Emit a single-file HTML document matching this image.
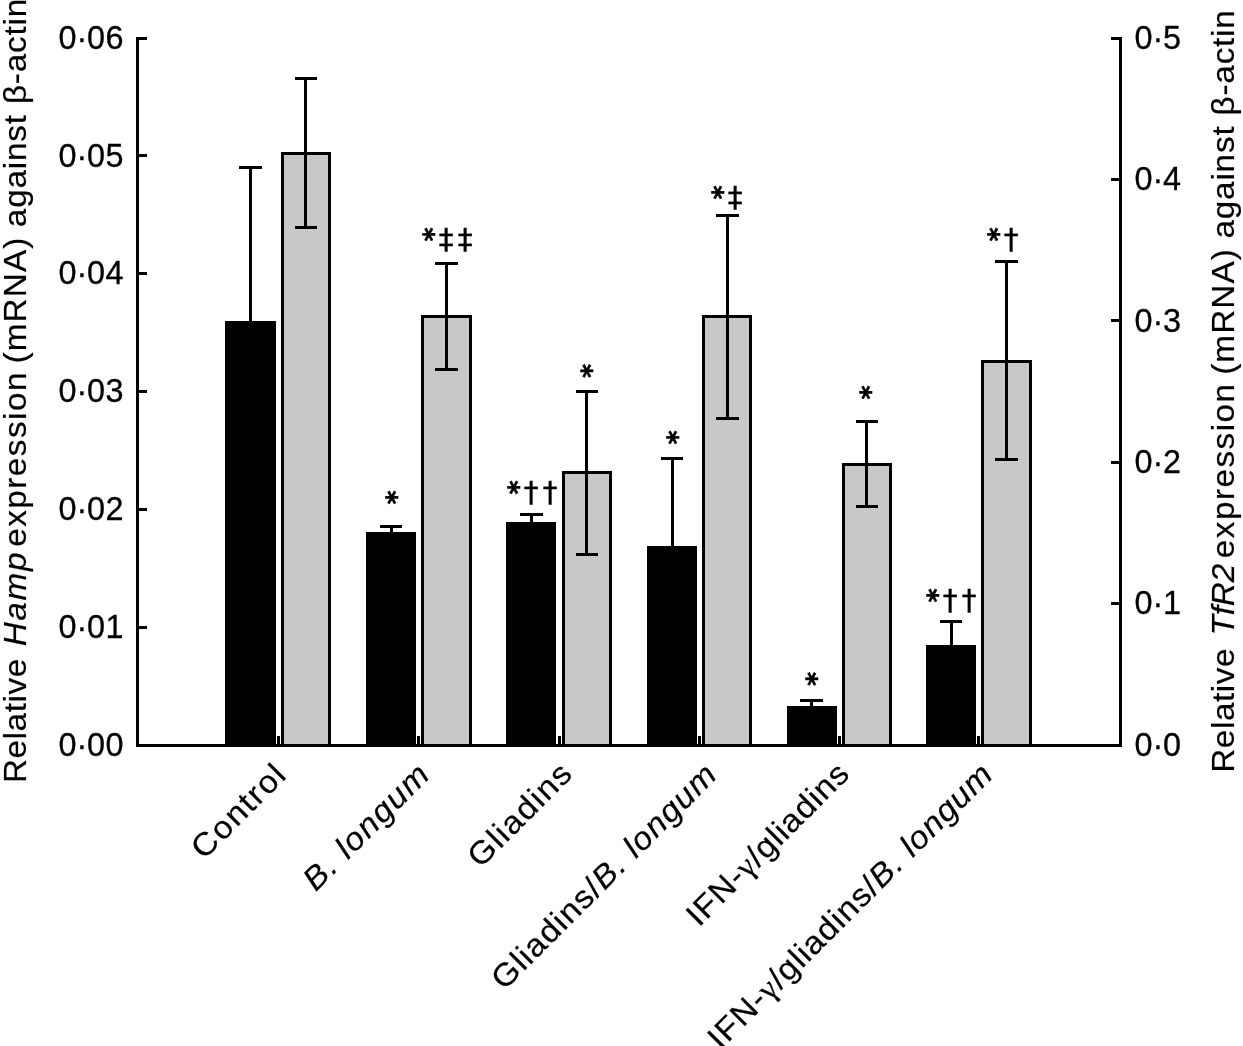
<!DOCTYPE html>
<html lang="en"><head><meta charset="utf-8"><title>Relative Hamp and TfR2 expression</title>
<style>html,body{margin:0;padding:0;background:#fff}body{width:1243px;height:1046px;overflow:hidden}svg{display:block}text{font-family:"Liberation Sans", sans-serif;fill:#000;stroke:#000;stroke-width:0.20px;font-kerning:none}.tick{stroke-width:0.3px}.ast{font-family:"DejaVu Sans","Liberation Sans",sans-serif;font-weight:bold;stroke-width:0.6px}.dag{font-family:"DejaVu Sans","Liberation Sans",sans-serif;stroke-width:0.4px}.ser{font-family:"Liberation Serif",serif}.it{font-style:italic}</style>
</head><body>
<svg width="1243" height="1046" viewBox="0 0 1243 1046">
<rect x="0" y="0" width="1243" height="1046" fill="#fff"/>
<g id="bars">
<rect x="225" y="321" width="51" height="424" fill="#000"/>
<rect x="366" y="532" width="50" height="213" fill="#000"/>
<rect x="506" y="522" width="50" height="223" fill="#000"/>
<rect x="647" y="546" width="50" height="199" fill="#000"/>
<rect x="787" y="706" width="50" height="39" fill="#000"/>
<rect x="926" y="645" width="50" height="100" fill="#000"/>
<rect x="281" y="152" width="50" height="593" fill="#000"/>
<rect x="284" y="155" width="44" height="589" fill="#c8c8c8"/>
<rect x="421" y="315" width="51" height="430" fill="#000"/>
<rect x="424" y="318" width="45" height="426" fill="#c8c8c8"/>
<rect x="562" y="471" width="50" height="274" fill="#000"/>
<rect x="565" y="474" width="44" height="270" fill="#c8c8c8"/>
<rect x="702" y="315" width="50" height="430" fill="#000"/>
<rect x="705" y="318" width="44" height="426" fill="#c8c8c8"/>
<rect x="842" y="463" width="50" height="282" fill="#000"/>
<rect x="845" y="466" width="44" height="278" fill="#c8c8c8"/>
<rect x="981" y="360" width="51" height="385" fill="#000"/>
<rect x="984" y="363" width="45" height="381" fill="#c8c8c8"/>
</g>
<g id="errorbars">
<rect x="239" y="166" width="23" height="3" fill="#000"/>
<rect x="249" y="166" width="3" height="156" fill="#000"/>
<rect x="380" y="525" width="22" height="3" fill="#000"/>
<rect x="390" y="525" width="3" height="8" fill="#000"/>
<rect x="520" y="513" width="23" height="3" fill="#000"/>
<rect x="530" y="513" width="3" height="10" fill="#000"/>
<rect x="661" y="457" width="22" height="3" fill="#000"/>
<rect x="671" y="457" width="3" height="90" fill="#000"/>
<rect x="800" y="699" width="23" height="3" fill="#000"/>
<rect x="810" y="699" width="3" height="8" fill="#000"/>
<rect x="940" y="620" width="22" height="3" fill="#000"/>
<rect x="950" y="620" width="3" height="26" fill="#000"/>
<rect x="295" y="77" width="22" height="3" fill="#000"/>
<rect x="295" y="226" width="22" height="3" fill="#000"/>
<rect x="304" y="77" width="3" height="152" fill="#000"/>
<rect x="435" y="262" width="23" height="3" fill="#000"/>
<rect x="435" y="368" width="23" height="3" fill="#000"/>
<rect x="445" y="262" width="3" height="109" fill="#000"/>
<rect x="576" y="390" width="22" height="3" fill="#000"/>
<rect x="576" y="553" width="22" height="3" fill="#000"/>
<rect x="585" y="390" width="3" height="166" fill="#000"/>
<rect x="716" y="214" width="23" height="3" fill="#000"/>
<rect x="716" y="417" width="23" height="3" fill="#000"/>
<rect x="726" y="214" width="3" height="206" fill="#000"/>
<rect x="856" y="420" width="22" height="3" fill="#000"/>
<rect x="856" y="505" width="22" height="3" fill="#000"/>
<rect x="865" y="420" width="3" height="88" fill="#000"/>
<rect x="995" y="260" width="23" height="3" fill="#000"/>
<rect x="995" y="458" width="23" height="3" fill="#000"/>
<rect x="1005" y="260" width="3" height="201" fill="#000"/>
</g>
<g id="axes">
<rect x="136" y="37" width="3" height="710" fill="#000"/>
<rect x="1119" y="37" width="3" height="710" fill="#000"/>
<rect x="136" y="744" width="986" height="3" fill="#000"/>
<rect x="139" y="744" width="8" height="3" fill="#000"/>
<text class="tick" x="58.6 76.5 87.1 105.5" y="755.70" font-size="32.4">0·00</text>
<rect x="139" y="626" width="8" height="3" fill="#000"/>
<text class="tick" x="58.6 76.5 87.1 105.5" y="637.70" font-size="32.4">0·01</text>
<rect x="139" y="508" width="8" height="3" fill="#000"/>
<text class="tick" x="58.6 76.5 87.1 105.5" y="519.70" font-size="32.4">0·02</text>
<rect x="139" y="390" width="8" height="3" fill="#000"/>
<text class="tick" x="58.6 76.5 87.1 105.5" y="401.70" font-size="32.4">0·03</text>
<rect x="139" y="272" width="8" height="3" fill="#000"/>
<text class="tick" x="58.6 76.5 87.1 105.5" y="283.70" font-size="32.4">0·04</text>
<rect x="139" y="154" width="8" height="3" fill="#000"/>
<text class="tick" x="58.6 76.5 87.1 105.5" y="167.00" font-size="32.4">0·05</text>
<rect x="139" y="37" width="8" height="3" fill="#000"/>
<text class="tick" x="58.6 76.5 87.1 105.5" y="48.90" font-size="32.4">0·06</text>
<rect x="1111" y="744" width="8" height="3" fill="#000"/>
<text class="tick" x="1134.6 1152.5 1163.1" y="755.70" font-size="32.4">0·0</text>
<rect x="1111" y="602" width="8" height="3" fill="#000"/>
<text class="tick" x="1134.6 1152.5 1163.1" y="613.70" font-size="32.4">0·1</text>
<rect x="1111" y="461" width="8" height="3" fill="#000"/>
<text class="tick" x="1134.6 1152.5 1163.1" y="472.70" font-size="32.4">0·2</text>
<rect x="1111" y="319" width="8" height="3" fill="#000"/>
<text class="tick" x="1134.6 1152.5 1163.1" y="331.50" font-size="32.4">0·3</text>
<rect x="1111" y="178" width="8" height="3" fill="#000"/>
<text class="tick" x="1134.6 1152.5 1163.1" y="189.70" font-size="32.4">0·4</text>
<rect x="1111" y="37" width="8" height="3" fill="#000"/>
<text class="tick" x="1134.6 1152.5 1163.1" y="48.80" font-size="32.4">0·5</text>
<rect x="277" y="736" width="3" height="8" fill="#000"/>
<rect x="417" y="736" width="3" height="8" fill="#000"/>
<rect x="558" y="736" width="3" height="8" fill="#000"/>
<rect x="698" y="736" width="3" height="8" fill="#000"/>
<rect x="838" y="736" width="3" height="8" fill="#000"/>
<rect x="977" y="736" width="3" height="8" fill="#000"/>
</g>
<g id="annotations">
<text class="ast" transform="rotate(90 391.50 497.50)" x="384.46" y="510.96" font-size="26.5">*</text>
<text class="ast" transform="rotate(90 586.50 371.00)" x="579.46" y="384.46" font-size="26.5">*</text>
<text class="ast" transform="rotate(90 672.50 437.50)" x="665.46" y="450.96" font-size="26.5">*</text>
<text class="ast" transform="rotate(90 811.50 679.00)" x="804.46" y="692.46" font-size="26.5">*</text>
<text class="ast" transform="rotate(90 865.50 392.50)" x="858.46" y="405.96" font-size="26.5">*</text>
<text class="ast" transform="rotate(90 428.50 234.50)" x="421.46" y="247.96" font-size="26.5">*</text>
<text class="dag" transform="translate(439.30 248.90) scale(1.050 1)" x="-0.44" y="0" font-size="28.2">‡</text>
<text class="dag" transform="translate(458.30 248.90) scale(1.050 1)" x="-0.44" y="0" font-size="28.2">‡</text>
<text class="ast" transform="rotate(90 513.50 487.50)" x="506.46" y="500.96" font-size="26.5">*</text>
<text class="dag" transform="translate(524.30 501.90) scale(1.050 1)" x="-0.44" y="0" font-size="28.2">†</text>
<text class="dag" transform="translate(543.30 501.90) scale(1.050 1)" x="-0.44" y="0" font-size="28.2">†</text>
<text class="ast" transform="rotate(90 717.50 192.50)" x="710.46" y="205.96" font-size="26.5">*</text>
<text class="dag" transform="translate(728.30 206.90) scale(1.050 1)" x="-0.44" y="0" font-size="28.2">‡</text>
<text class="ast" transform="rotate(90 932.50 595.50)" x="925.46" y="608.96" font-size="26.5">*</text>
<text class="dag" transform="translate(943.30 609.90) scale(1.050 1)" x="-0.44" y="0" font-size="28.2">†</text>
<text class="dag" transform="translate(962.30 609.90) scale(1.050 1)" x="-0.44" y="0" font-size="28.2">†</text>
<text class="ast" transform="rotate(90 993.50 234.50)" x="986.46" y="247.96" font-size="26.5">*</text>
<text class="dag" transform="translate(1004.30 248.90) scale(1.050 1)" x="-0.44" y="0" font-size="28.2">†</text>
</g>
<g id="xlabels">
<text transform="translate(288.55 776.00) rotate(-45) scale(1.050 1)" text-anchor="end" letter-spacing="1.514" font-size="32.0">Control</text>
<text transform="translate(432.15 776.00) rotate(-45) scale(1.050 1)" text-anchor="end" letter-spacing="1.398" font-size="32.0"><tspan class="it">B. longum</tspan></text>
<text transform="translate(574.70 774.75) rotate(-45) scale(1.050 1)" text-anchor="end" letter-spacing="1.416" font-size="32.0">Gliadins</text>
<text transform="translate(719.25 776.15) rotate(-45) scale(1.050 1)" text-anchor="end" letter-spacing="1.176" font-size="32.0">Gliadins/<tspan class="it">B. longum</tspan></text>
<text transform="translate(851.45 775.20) rotate(-45) scale(1.050 1)" text-anchor="end" letter-spacing="0.833" font-size="32.0">IFN-<tspan class="ser">γ</tspan>/gliadins</text>
<text transform="translate(995.00 776.00) rotate(-45) scale(1.050 1)" text-anchor="end" letter-spacing="0.965" font-size="32.0">IFN-<tspan class="ser">γ</tspan>/gliadins/<tspan class="it">B. longum</tspan></text>
</g>
<g id="ylabels">
<text transform="translate(26.00 780.50) rotate(-90) scale(1.040 1)" x="-2.50" y="0" letter-spacing="0.579" font-size="32.0">Relative</text>
<text transform="translate(26.00 645.80) rotate(-90) scale(1.040 1)" x="-0.50" y="0" letter-spacing="1.595" font-size="32.0" class="it">Hamp</text>
<text transform="translate(26.00 545.70) rotate(-90) scale(1.040 1)" x="-1.00" y="0" letter-spacing="1.418" font-size="32.0">expression</text>
<text transform="translate(26.00 361.90) rotate(-90) scale(1.040 1)" x="-1.50" y="0" letter-spacing="1.083" font-size="32.0">(mRNA)</text>
<text transform="translate(26.00 226.10) rotate(-90) scale(1.040 1)" x="-1.00" y="0" letter-spacing="0.787" font-size="32.0">against</text>
<text transform="translate(26.00 102.00) rotate(-90) scale(1.040 1)" x="-2.00" y="0" letter-spacing="0.773" font-size="32.0">β-actin</text>
<text transform="translate(1234.10 770.20) rotate(-90) scale(1.040 1)" x="-2.50" y="0" letter-spacing="0.579" font-size="32.0">Relative</text>
<text transform="translate(1234.10 632.90) rotate(-90) scale(1.040 1)" x="-2.50" y="0" letter-spacing="-0.131" font-size="32.0" class="it">TfR2</text>
<text transform="translate(1234.10 557.10) rotate(-90) scale(1.040 1)" x="-1.00" y="0" letter-spacing="1.418" font-size="32.0">expression</text>
<text transform="translate(1234.10 373.30) rotate(-90) scale(1.040 1)" x="-1.50" y="0" letter-spacing="1.083" font-size="32.0">(mRNA)</text>
<text transform="translate(1234.10 237.50) rotate(-90) scale(1.040 1)" x="-1.00" y="0" letter-spacing="0.787" font-size="32.0">against</text>
<text transform="translate(1234.10 113.40) rotate(-90) scale(1.040 1)" x="-2.00" y="0" letter-spacing="0.773" font-size="32.0">β-actin</text>
</g>
</svg>
</body></html>
